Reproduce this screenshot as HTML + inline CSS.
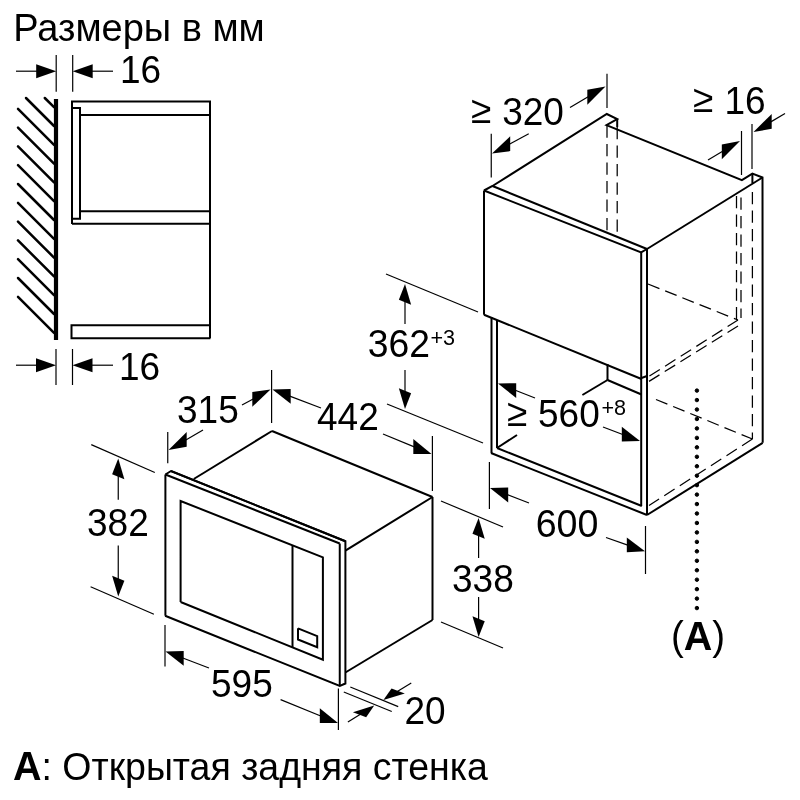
<!DOCTYPE html>
<html><head><meta charset="utf-8"><style>
html,body{margin:0;padding:0;background:#fff;width:800px;height:800px;overflow:hidden}
svg{display:block;font-family:"Liberation Sans",sans-serif;filter:grayscale(100%)}
</style></head><body>
<svg width="800" height="800" viewBox="0 0 800 800" stroke="#000" fill="#000">
<g stroke="#000">
<text transform="translate(13.25,40.75) scale(1,1.0)" font-size="38" stroke="none">Размеры в мм</text>
<line x1="56.20" y1="55.00" x2="56.20" y2="91.70" stroke-width="1.2" stroke-linecap="butt"/>
<line x1="72.70" y1="55.00" x2="72.70" y2="91.70" stroke-width="1.2" stroke-linecap="butt"/>
<line x1="16.00" y1="71.20" x2="37.20" y2="71.20" stroke-width="1.2" stroke-linecap="butt"/>
<polygon points="56.20,71.20 36.20,78.20 36.20,64.20" stroke="none" fill="#000"/>
<line x1="113.00" y1="71.20" x2="91.70" y2="71.20" stroke-width="1.2" stroke-linecap="butt"/>
<polygon points="72.70,71.20 92.70,78.20 92.70,64.20" stroke="none" fill="#000"/>
<text transform="translate(120.00,83.00) scale(1,1.05)" font-size="37" stroke="none">16</text>
<line x1="56.00" y1="99.00" x2="56.00" y2="340.00" stroke-width="4.2" stroke-linecap="butt"/>
<line x1="44.80" y1="98.00" x2="54.00" y2="107.20" stroke-width="2.5" stroke-linecap="round"/>
<line x1="26.00" y1="98.00" x2="54.00" y2="126.00" stroke-width="2.5" stroke-linecap="round"/>
<line x1="18.00" y1="108.80" x2="54.00" y2="144.80" stroke-width="2.5" stroke-linecap="round"/>
<line x1="18.00" y1="127.60" x2="54.00" y2="163.60" stroke-width="2.5" stroke-linecap="round"/>
<line x1="18.00" y1="146.40" x2="54.00" y2="182.40" stroke-width="2.5" stroke-linecap="round"/>
<line x1="18.00" y1="165.20" x2="54.00" y2="201.20" stroke-width="2.5" stroke-linecap="round"/>
<line x1="18.00" y1="184.00" x2="54.00" y2="220.00" stroke-width="2.5" stroke-linecap="round"/>
<line x1="18.00" y1="202.80" x2="54.00" y2="238.80" stroke-width="2.5" stroke-linecap="round"/>
<line x1="18.00" y1="221.60" x2="54.00" y2="257.60" stroke-width="2.5" stroke-linecap="round"/>
<line x1="18.00" y1="240.40" x2="54.00" y2="276.40" stroke-width="2.5" stroke-linecap="round"/>
<line x1="18.00" y1="259.20" x2="54.00" y2="295.20" stroke-width="2.5" stroke-linecap="round"/>
<line x1="18.00" y1="278.00" x2="54.00" y2="314.00" stroke-width="2.5" stroke-linecap="round"/>
<line x1="18.00" y1="296.80" x2="54.00" y2="332.80" stroke-width="2.5" stroke-linecap="round"/>
<polyline points="72.00,224.00 72.00,101.60 210.00,101.60 210.00,338.30" fill="none" stroke-width="2.0" stroke-linejoin="miter"/>
<line x1="72.00" y1="223.75" x2="210.00" y2="223.75" stroke-width="2.0" stroke-linecap="butt"/>
<line x1="80.00" y1="115.00" x2="210.00" y2="115.00" stroke-width="2.0" stroke-linecap="butt"/>
<line x1="80.00" y1="211.25" x2="210.00" y2="211.25" stroke-width="2.0" stroke-linecap="butt"/>
<polyline points="72.00,108.00 80.00,108.00 80.00,218.75 72.00,218.75" fill="none" stroke-width="2.0" stroke-linejoin="miter"/>
<polyline points="210.40,325.30 71.50,325.30 71.50,338.30 210.40,338.30" fill="none" stroke-width="2.0" stroke-linejoin="miter"/>
<line x1="56.00" y1="349.00" x2="56.00" y2="385.00" stroke-width="1.2" stroke-linecap="butt"/>
<line x1="72.50" y1="349.00" x2="72.50" y2="385.00" stroke-width="1.2" stroke-linecap="butt"/>
<line x1="16.00" y1="365.20" x2="37.00" y2="365.20" stroke-width="1.2" stroke-linecap="butt"/>
<polygon points="56.00,365.20 36.00,372.20 36.00,358.20" stroke="none" fill="#000"/>
<line x1="113.00" y1="365.20" x2="91.50" y2="365.20" stroke-width="1.2" stroke-linecap="butt"/>
<polygon points="72.50,365.20 92.50,372.20 92.50,358.20" stroke="none" fill="#000"/>
<text transform="translate(119.00,379.50) scale(1,1.05)" font-size="37" stroke="none">16</text>
<line x1="484.00" y1="190.50" x2="484.00" y2="314.70" stroke-width="2.0" stroke-linecap="butt"/>
<polyline points="484.00,190.50 492.50,186.00 606.80,114.00 617.20,119.00 606.50,125.20 741.90,180.10 752.40,173.60 762.50,177.50 762.70,442.80" fill="none" stroke-width="2.0" stroke-linejoin="miter"/>
<line x1="762.50" y1="177.50" x2="647.00" y2="249.00" stroke-width="2.0" stroke-linecap="butt"/>
<line x1="492.50" y1="186.00" x2="647.00" y2="249.00" stroke-width="2.0" stroke-linecap="butt"/>
<polyline points="484.00,190.50 641.10,252.40 647.00,249.00" fill="none" stroke-width="2.0" stroke-linejoin="miter"/>
<line x1="641.20" y1="252.40" x2="641.20" y2="506.00" stroke-width="2.0" stroke-linecap="butt"/>
<line x1="647.00" y1="249.00" x2="647.00" y2="515.00" stroke-width="2.0" stroke-linecap="butt"/>
<line x1="484.00" y1="314.70" x2="641.50" y2="379.00" stroke-width="2.0" stroke-linecap="butt"/>
<line x1="641.50" y1="378.00" x2="647.00" y2="376.00" stroke-width="2.0" stroke-linecap="butt"/>
<line x1="607.50" y1="364.00" x2="607.50" y2="380.00" stroke-width="2.0" stroke-linecap="butt"/>
<line x1="607.50" y1="380.00" x2="641.50" y2="394.50" stroke-width="2.0" stroke-linecap="butt"/>
<line x1="607.50" y1="380.00" x2="582.40" y2="395.00" stroke-width="2.0" stroke-linecap="butt"/>
<line x1="517.00" y1="435.00" x2="497.00" y2="448.00" stroke-width="2.0" stroke-linecap="butt"/>
<line x1="491.50" y1="317.00" x2="491.50" y2="453.00" stroke-width="2.0" stroke-linecap="butt"/>
<line x1="497.00" y1="320.00" x2="497.00" y2="448.00" stroke-width="2.0" stroke-linecap="butt"/>
<line x1="491.00" y1="453.00" x2="647.00" y2="515.00" stroke-width="2.0" stroke-linecap="butt"/>
<line x1="497.00" y1="448.00" x2="641.80" y2="506.00" stroke-width="2.0" stroke-linecap="butt"/>
<line x1="647.00" y1="515.00" x2="762.70" y2="442.80" stroke-width="2.0" stroke-linecap="butt"/>
<line x1="617.20" y1="119.00" x2="617.20" y2="127.00" stroke-width="2.0" stroke-linecap="butt"/>
<line x1="617.20" y1="127.00" x2="617.20" y2="236.00" stroke-width="1.25" stroke-dasharray="12.3 6.2" stroke-linecap="butt"/>
<line x1="607.00" y1="125.50" x2="607.00" y2="232.50" stroke-width="1.25" stroke-dasharray="12.3 6.2" stroke-linecap="butt"/>
<line x1="752.40" y1="173.60" x2="752.40" y2="183.00" stroke-width="2.0" stroke-linecap="butt"/>
<line x1="752.40" y1="192.00" x2="752.40" y2="439.00" stroke-width="1.25" stroke-dasharray="12.3 6.2" stroke-linecap="butt"/>
<line x1="741.00" y1="197.50" x2="741.00" y2="318.00" stroke-width="1.25" stroke-dasharray="12.3 6.2" stroke-linecap="butt"/>
<line x1="736.50" y1="196.00" x2="736.50" y2="320.00" stroke-width="1.25" stroke-dasharray="12.3 6.2" stroke-linecap="butt"/>
<line x1="648.00" y1="284.00" x2="738.00" y2="320.00" stroke-width="1.25" stroke-dasharray="12.3 6.2" stroke-linecap="butt"/>
<line x1="738.00" y1="320.00" x2="648.00" y2="377.00" stroke-width="1.25" stroke-dasharray="12.3 6.2" stroke-linecap="butt"/>
<line x1="738.00" y1="326.00" x2="648.00" y2="382.00" stroke-width="1.25" stroke-dasharray="12.3 6.2" stroke-linecap="butt"/>
<line x1="656.00" y1="399.50" x2="752.40" y2="439.00" stroke-width="1.25" stroke-dasharray="12.3 6.2" stroke-linecap="butt"/>
<line x1="752.40" y1="439.00" x2="649.00" y2="505.50" stroke-width="1.25" stroke-dasharray="12.3 6.2" stroke-linecap="butt"/>
<circle cx="696.9" cy="390.60" r="1.75"/>
<circle cx="696.9" cy="400.06" r="1.75"/>
<circle cx="696.9" cy="409.51" r="1.75"/>
<circle cx="696.9" cy="418.97" r="1.75"/>
<circle cx="696.9" cy="428.42" r="1.75"/>
<circle cx="696.9" cy="437.88" r="1.75"/>
<circle cx="696.9" cy="447.33" r="1.75"/>
<circle cx="696.9" cy="456.79" r="1.75"/>
<circle cx="696.9" cy="466.24" r="1.75"/>
<circle cx="696.9" cy="475.70" r="1.75"/>
<circle cx="696.9" cy="485.15" r="1.75"/>
<circle cx="696.9" cy="494.61" r="1.75"/>
<circle cx="696.9" cy="504.06" r="1.75"/>
<circle cx="696.9" cy="513.51" r="1.75"/>
<circle cx="696.9" cy="522.97" r="1.75"/>
<circle cx="696.9" cy="532.42" r="1.75"/>
<circle cx="696.9" cy="541.88" r="1.75"/>
<circle cx="696.9" cy="551.34" r="1.75"/>
<circle cx="696.9" cy="560.79" r="1.75"/>
<circle cx="696.9" cy="570.25" r="1.75"/>
<circle cx="696.9" cy="579.70" r="1.75"/>
<circle cx="696.9" cy="589.15" r="1.75"/>
<circle cx="696.9" cy="598.61" r="1.75"/>
<circle cx="696.9" cy="608.07" r="1.75"/>
<text transform="translate(671.00,650.00) scale(1,1.05)" font-size="38.5" stroke="none">(<tspan font-weight="bold" font-size="39.5">A</tspan>)</text>
<line x1="491.25" y1="133.75" x2="491.25" y2="177.50" stroke-width="1.2" stroke-linecap="butt"/>
<line x1="607.00" y1="73.75" x2="607.00" y2="108.00" stroke-width="1.2" stroke-linecap="butt"/>
<line x1="528.75" y1="133.75" x2="509.32" y2="144.19" stroke-width="1.2" stroke-linecap="butt"/>
<polygon points="492.00,153.50 510.20,151.12 510.20,136.32" stroke="none" fill="#000"/>
<line x1="570.00" y1="107.50" x2="588.16" y2="96.76" stroke-width="1.2" stroke-linecap="butt"/>
<polygon points="605.50,86.50 587.30,104.67 587.30,89.87" stroke="none" fill="#000"/>
<text transform="translate(470.90,123.00) scale(1,1.05)" font-size="37" stroke="none">≥</text>
<text transform="translate(502.15,125.30) scale(1,1.05)" font-size="37" stroke="none">320</text>
<line x1="741.50" y1="131.00" x2="741.50" y2="175.00" stroke-width="1.2" stroke-linecap="butt"/>
<line x1="752.00" y1="124.00" x2="752.00" y2="169.00" stroke-width="1.2" stroke-linecap="butt"/>
<line x1="708.00" y1="160.00" x2="722.66" y2="151.30" stroke-width="1.2" stroke-linecap="butt"/>
<polygon points="740.00,141.00 721.80,159.21 721.80,144.41" stroke="none" fill="#000"/>
<line x1="785.00" y1="113.60" x2="770.84" y2="121.87" stroke-width="1.2" stroke-linecap="butt"/>
<polygon points="753.50,132.00 771.70,128.77 771.70,113.97" stroke="none" fill="#000"/>
<text transform="translate(693.00,112.00) scale(1,1.05)" font-size="37" stroke="none">≥</text>
<text transform="translate(724.40,113.60) scale(1,1.05)" font-size="37" stroke="none">16</text>
<line x1="386.00" y1="274.00" x2="478.00" y2="312.00" stroke-width="1.2" stroke-linecap="butt"/>
<line x1="387.00" y1="404.00" x2="483.00" y2="443.00" stroke-width="1.2" stroke-linecap="butt"/>
<line x1="405.00" y1="324.00" x2="405.00" y2="301.20" stroke-width="1.2" stroke-linecap="butt"/>
<polygon points="405.00,284.00 411.13,304.65 398.87,299.75" stroke="none" fill="#000"/>
<line x1="405.00" y1="370.00" x2="405.00" y2="391.80" stroke-width="1.2" stroke-linecap="butt"/>
<polygon points="405.00,409.00 411.13,393.25 398.87,388.35" stroke="none" fill="#000"/>
<text transform="translate(367.70,357.30) scale(1,1.05)" font-size="37.3" stroke="none">362</text>
<text transform="translate(430.50,344.80) scale(1,1.05)" font-size="21.6" stroke="none">+3</text>
<line x1="535.00" y1="398.00" x2="515.27" y2="390.27" stroke-width="1.2" stroke-linecap="butt"/>
<polygon points="498.00,383.50 516.20,398.03 516.20,383.23" stroke="none" fill="#000"/>
<line x1="603.00" y1="427.00" x2="622.74" y2="434.47" stroke-width="1.2" stroke-linecap="butt"/>
<polygon points="640.00,441.00 621.80,441.51 621.80,426.71" stroke="none" fill="#000"/>
<text transform="translate(507.00,425.50) scale(1,1.05)" font-size="37" stroke="none">≥</text>
<text transform="translate(538.00,427.00) scale(1,1.05)" font-size="37" stroke="none">560</text>
<text transform="translate(601.50,415.30) scale(1,1.05)" font-size="21.6" stroke="none">+8</text>
<line x1="489.40" y1="462.00" x2="489.40" y2="509.00" stroke-width="1.2" stroke-linecap="butt"/>
<line x1="645.50" y1="526.00" x2="645.50" y2="574.00" stroke-width="1.2" stroke-linecap="butt"/>
<line x1="529.00" y1="503.00" x2="507.27" y2="494.64" stroke-width="1.2" stroke-linecap="butt"/>
<polygon points="490.00,488.00 508.20,502.40 508.20,487.60" stroke="none" fill="#000"/>
<line x1="606.00" y1="537.50" x2="627.74" y2="545.19" stroke-width="1.2" stroke-linecap="butt"/>
<polygon points="645.00,551.30 626.80,552.26 626.80,537.46" stroke="none" fill="#000"/>
<text transform="translate(535.70,536.50) scale(1,1.05)" font-size="37.6" stroke="none">600</text>
<line x1="165.40" y1="474.50" x2="165.40" y2="615.75" stroke-width="2.0" stroke-linecap="butt"/>
<polyline points="165.40,474.50 171.00,471.00 345.40,541.30 345.40,683.50 339.80,686.00 165.10,615.75" fill="none" stroke-width="2.0" stroke-linejoin="miter"/>
<line x1="165.40" y1="474.50" x2="339.75" y2="543.50" stroke-width="2.0" stroke-linecap="butt"/>
<line x1="339.75" y1="543.50" x2="339.75" y2="686.00" stroke-width="2.0" stroke-linecap="butt"/>
<line x1="171.00" y1="471.00" x2="345.40" y2="541.30" stroke-width="2.0" stroke-linecap="butt"/>
<polyline points="180.60,602.00 180.60,501.00 322.90,557.40 322.90,659.75 180.60,602.00" fill="none" stroke-width="2.0" stroke-linejoin="miter"/>
<line x1="292.50" y1="546.00" x2="292.50" y2="647.40" stroke-width="2.0" stroke-linecap="butt"/>
<polyline points="298.00,628.30 317.20,636.20 317.20,647.20 298.00,639.50 298.00,628.30" fill="none" stroke-width="2.0" stroke-linejoin="miter"/>
<line x1="193.75" y1="479.00" x2="272.00" y2="431.00" stroke-width="2.0" stroke-linecap="butt"/>
<line x1="272.00" y1="431.00" x2="432.50" y2="497.00" stroke-width="2.0" stroke-linecap="butt"/>
<line x1="432.50" y1="497.00" x2="432.50" y2="620.00" stroke-width="2.0" stroke-linecap="butt"/>
<line x1="432.50" y1="497.00" x2="345.40" y2="550.60" stroke-width="2.0" stroke-linecap="butt"/>
<line x1="432.50" y1="620.00" x2="345.40" y2="672.50" stroke-width="2.0" stroke-linecap="butt"/>
<line x1="167.75" y1="432.00" x2="167.75" y2="463.20" stroke-width="1.2" stroke-linecap="butt"/>
<line x1="271.60" y1="370.00" x2="271.60" y2="423.00" stroke-width="1.2" stroke-linecap="butt"/>
<line x1="203.00" y1="430.00" x2="185.83" y2="439.95" stroke-width="1.2" stroke-linecap="butt"/>
<polygon points="168.50,450.00 186.70,446.85 186.70,432.05" stroke="none" fill="#000"/>
<line x1="242.00" y1="405.00" x2="253.18" y2="398.92" stroke-width="1.2" stroke-linecap="butt"/>
<polygon points="270.50,389.50 252.30,406.80 252.30,392.00" stroke="none" fill="#000"/>
<text transform="translate(177.00,423.00) scale(1,1.05)" font-size="37" stroke="none">315</text>
<line x1="432.40" y1="436.00" x2="432.40" y2="491.00" stroke-width="1.2" stroke-linecap="butt"/>
<line x1="321.00" y1="408.00" x2="289.77" y2="396.09" stroke-width="1.2" stroke-linecap="butt"/>
<polygon points="272.50,389.50 290.70,403.84 290.70,389.04" stroke="none" fill="#000"/>
<line x1="383.00" y1="434.00" x2="414.22" y2="446.88" stroke-width="1.2" stroke-linecap="butt"/>
<polygon points="431.50,454.00 413.30,453.89 413.30,439.09" stroke="none" fill="#000"/>
<text transform="translate(317.00,430.00) scale(1,1.05)" font-size="37" stroke="none">442</text>
<line x1="91.25" y1="444.60" x2="154.80" y2="472.50" stroke-width="1.2" stroke-linecap="butt"/>
<line x1="90.60" y1="586.80" x2="153.90" y2="614.30" stroke-width="1.2" stroke-linecap="butt"/>
<line x1="118.25" y1="499.75" x2="118.25" y2="475.70" stroke-width="1.2" stroke-linecap="butt"/>
<polygon points="118.25,458.50 124.38,479.15 112.12,474.25" stroke="none" fill="#000"/>
<line x1="118.25" y1="545.50" x2="118.25" y2="579.20" stroke-width="1.2" stroke-linecap="butt"/>
<polygon points="118.25,596.40 124.38,580.65 112.12,575.75" stroke="none" fill="#000"/>
<text transform="translate(87.00,536.00) scale(1,1.05)" font-size="37" stroke="none">382</text>
<line x1="441.00" y1="501.00" x2="503.00" y2="527.00" stroke-width="1.2" stroke-linecap="butt"/>
<line x1="441.00" y1="622.00" x2="503.00" y2="648.00" stroke-width="1.2" stroke-linecap="butt"/>
<line x1="478.60" y1="558.00" x2="478.60" y2="535.20" stroke-width="1.2" stroke-linecap="butt"/>
<polygon points="478.60,518.00 484.73,538.65 472.47,533.75" stroke="none" fill="#000"/>
<line x1="478.60" y1="597.00" x2="478.60" y2="619.80" stroke-width="1.2" stroke-linecap="butt"/>
<polygon points="478.60,637.00 484.73,621.25 472.47,616.35" stroke="none" fill="#000"/>
<text transform="translate(452.00,591.50) scale(1,1.05)" font-size="37" stroke="none">338</text>
<line x1="165.00" y1="625.00" x2="165.00" y2="666.60" stroke-width="1.2" stroke-linecap="butt"/>
<line x1="338.40" y1="688.60" x2="338.40" y2="730.00" stroke-width="1.2" stroke-linecap="butt"/>
<line x1="209.00" y1="668.00" x2="182.77" y2="658.05" stroke-width="1.2" stroke-linecap="butt"/>
<polygon points="165.50,651.50 183.70,665.80 183.70,651.00" stroke="none" fill="#000"/>
<line x1="280.60" y1="699.60" x2="320.73" y2="715.96" stroke-width="1.2" stroke-linecap="butt"/>
<polygon points="338.00,723.00 319.80,722.98 319.80,708.18" stroke="none" fill="#000"/>
<text transform="translate(211.00,697.00) scale(1,1.05)" font-size="37" stroke="none">595</text>
<line x1="350.30" y1="687.00" x2="398.20" y2="706.60" stroke-width="1.2" stroke-linecap="butt"/>
<line x1="343.80" y1="692.00" x2="391.75" y2="711.50" stroke-width="1.2" stroke-linecap="butt"/>
<line x1="347.90" y1="722.00" x2="360.39" y2="714.16" stroke-width="1.2" stroke-linecap="butt"/>
<polygon points="374.20,705.50 366.18,717.22 352.91,712.17" stroke="none" fill="#000"/>
<line x1="411.25" y1="683.00" x2="397.31" y2="691.51" stroke-width="1.2" stroke-linecap="butt"/>
<polygon points="383.40,700.00 404.80,693.51 391.53,688.46" stroke="none" fill="#000"/>
<text transform="translate(404.40,723.70) scale(1,1.05)" font-size="37" stroke="none">20</text>
<text transform="translate(13.00,780.30) scale(1,1.03)" font-size="37.5" stroke="none"><tspan font-weight="bold" font-size="39.5">A</tspan>: Открытая задняя стенка</text>
</g>
</svg></body></html>
